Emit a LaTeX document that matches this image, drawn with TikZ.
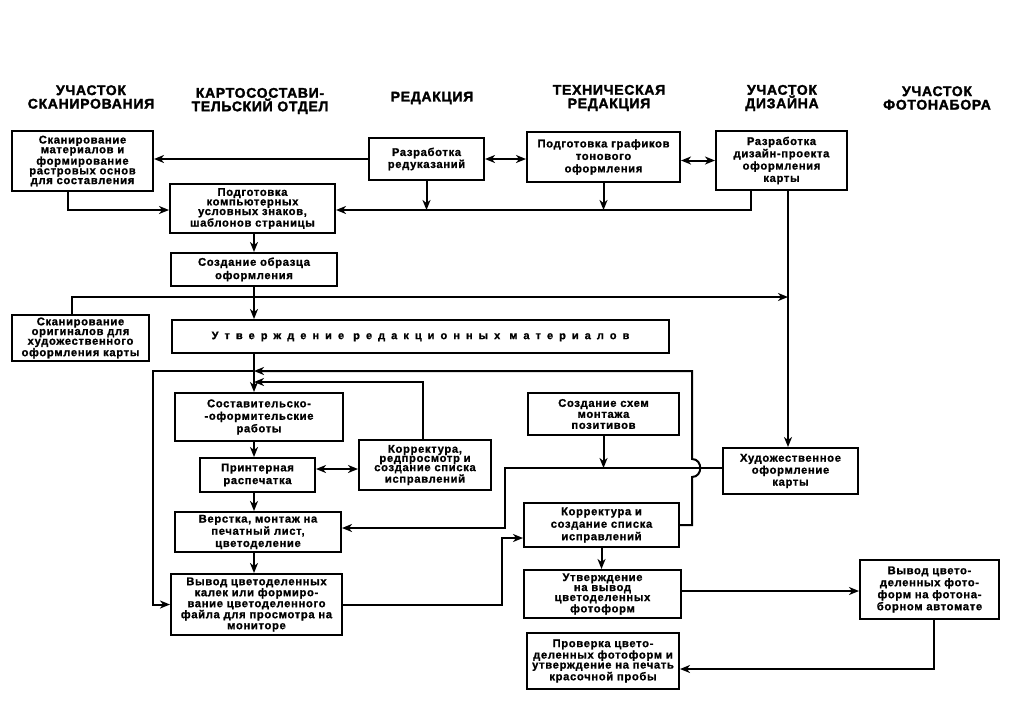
\documentclass[tikz,border=0pt]{standalone}
\usepackage{fontspec}
\usetikzlibrary{arrows.meta}
\newfontfamily\boxfont[LetterSpace=6,FakeBold=1.2]{Liberation Sans Bold}
\newfontfamily\headfont[LetterSpace=5,FakeBold=2]{Liberation Sans Bold}
\newfontfamily\widefont[LetterSpace=55,FakeBold=1.2]{Liberation Sans Bold}
\begin{document}
\begin{tikzpicture}[x=1pt,y=-1pt,
  bx/.style={draw,line width=2pt,inner sep=0pt,align=center,font=\boxfont\fontsize{11.2}{12}\selectfont},
  lead/.style={font=\boxfont\fontsize{11.2}{#1}\selectfont},
  ln/.style={line width=2pt},
  arr/.style={ln,-{Stealth[length=10pt,width=8pt,inset=3pt]}},
  darr/.style={ln,{Stealth[length=10pt,width=8pt,inset=3pt]}-{Stealth[length=10pt,width=8pt,inset=3pt]}},
  hd/.style={align=center,inner sep=0pt,font=\headfont\fontsize{14}{13.5}\selectfont}]
\fill[white] (0,0) rectangle (1010,705);
\useasboundingbox (0,0) rectangle (1010,705);

% headers
\node[hd] (h1) at (91,97) {УЧАСТОК\\СКАНИРОВАНИЯ};
\node[hd] (h2) at (260,101) {КАРТОСОСТАВИ-\\ТЕЛЬСКИЙ ОТДЕЛ};
\node[hd] (h3) at (432,98) {РЕДАКЦИЯ};
\node[hd] (h4) at (609,98) {ТЕХНИЧЕСКАЯ\\РЕДАКЦИЯ};
\node[hd] (h5) at (782,98) {УЧАСТОК\\ДИЗАЙНА};
\node[hd] (h6) at (937,98) {УЧАСТОК\\ФОТОНАБОРА};

% boxes
\node[bx,lead=9.7,minimum width=141pt,minimum height=60pt] (scan1) at (82.5,161) {Сканирование\\материалов и\\формирование\\растровых основ\\для составления};
\node[bx,lead=9.6,minimum width=165pt,minimum height=49pt] (podg) at (252.5,208.5) {Подготовка\\компьютерных\\условных знаков,\\шаблонов страницы};
\node[bx,lead=12,minimum width=115pt,minimum height=42pt] (red) at (426.5,159) {Разработка\\редуказаний};
\node[bx,lead=12.5,minimum width=153pt,minimum height=50pt] (graf) at (603.5,157) {Подготовка графиков\\тонового\\оформления};
\node[bx,lead=12.3,minimum width=131pt,minimum height=59pt] (diz) at (781.5,160.5) {Разработка\\дизайн-проекта\\оформления\\карты};
\node[bx,lead=13.3,minimum width=166pt,minimum height=33pt] (obr) at (254,269.5) {Создание образца\\оформления};
\node[bx,minimum width=497pt,minimum height=33pt,font=\widefont\fontsize{11}{12}\selectfont] (utv) at (420.5,336.5) {Утверждение редакционных материалов};
\node[bx,lead=9.7,minimum width=137pt,minimum height=46pt] (scan2) at (80.5,338) {Сканирование\\оригиналов для\\художественного\\оформления карты};
\node[bx,lead=12.5,minimum width=168pt,minimum height=48pt] (sost) at (259,417) {Составительско-\\-оформительские\\работы};
\node[bx,lead=12.7,minimum width=115pt,minimum height=34pt] (print) at (257.5,475) {Принтерная\\распечатка};
\node[bx,lead=9.2,minimum width=132pt,minimum height=50pt] (korr1) at (425,465) {Корректура,\\редпросмотр и\\создание списка\\исправлений};
\node[bx,lead=12.2,minimum width=166pt,minimum height=40pt] (verst) at (258,532) {Верстка, монтаж на\\печатный лист,\\цветоделение};
\node[bx,lead=11,minimum width=171pt,minimum height=61pt] (vyvod1) at (256.5,604.5) {Вывод цветоделенных\\калек или формиро-\\вание цветоделенного\\файла для просмотра на\\мониторе};
\node[bx,lead=11,minimum width=151pt,minimum height=42pt] (skhem) at (603.5,414) {Создание схем\\монтажа\\позитивов};
\node[bx,lead=12,minimum width=135pt,minimum height=46pt] (khud) at (790.5,471) {Художественное\\оформление\\карты};
\node[bx,lead=12.5,minimum width=155pt,minimum height=44pt] (korr2) at (601.5,525) {Корректура и\\создание списка\\исправлений};
\node[bx,lead=10,minimum width=157pt,minimum height=48pt] (utv2) at (602.5,594) {Утверждение\\на вывод\\цветоделенных\\фотоформ};
\node[bx,lead=12,minimum width=139pt,minimum height=59pt] (vyvod2) at (929.5,589.5) {Вывод цвето-\\деленных фото-\\форм на фотона-\\борном автомате};
\node[bx,lead=10,minimum width=152pt,minimum height=56pt] (prov) at (603,661) {Проверка цвето-\\деленных фотоформ и\\утверждение на печать\\красочной пробы};

% helper coordinates
\coordinate (mx) at (254,0);
\coordinate (x68) at (68,0);
\coordinate (x72) at (72,0);
\coordinate (x153) at (153,0);
\coordinate (x423) at (423,0);
\coordinate (x502) at (502,0);
\coordinate (x505) at (505,0);
\coordinate (x692) at (692,0);
\coordinate (x751) at (751,0);
\coordinate (x788) at (788,0);
\coordinate (x934) at (934,0);
\coordinate (y210) at (0,210);
\coordinate (y297) at (0,297);
\coordinate (y371) at (0,371);
\coordinate (y382) at (0,382);
\coordinate (y468) at (0,468);
\coordinate (y469) at (0,469);
\coordinate (y528) at (0,528);
\coordinate (y538) at (0,538);
\coordinate (y591) at (0,591);
\coordinate (y605) at (0,605);
\coordinate (y669) at (0,669);
\coordinate (b1) at (692,477);
\coordinate (b2) at (692,459);

% connectors
\draw[arr] (red.west) -- (red.west -| scan1.east);
\draw[darr] (red.east) -- (red.east -| graf.west);
\draw[darr] (diz.west -| graf.east) -- (diz.west);
\draw[arr] (scan1.south -| x68) |- (podg.west |- y210);
\draw[arr] (diz.south -| x751) |- (podg.east |- y210);
\draw[arr] (red.south) -- (red.south |- y210);
\draw[arr] (graf.south) -- (graf.south |- y210);
\draw[arr] (diz.south -| x788) -- (khud.north -| x788);
\draw[arr] (podg.south -| mx) -- (obr.north -| mx);
\draw[arr] (obr.south -| mx) -- (utv.north -| mx);
\draw[arr] (scan2.north -| x72) |- (x788 |- y297);
\draw[arr] (utv.south -| mx) -- (sost.north -| mx);
\draw[arr] (korr2.east) -- (korr2.east -| x692) -- (b1) .. controls +(11,0) and +(11,0) .. (b2) -- (x692 |- y371) -- (mx |- y371);
\draw[arr] (mx |- y371) -- (x153 |- y371) |- (vyvod1.west);
\draw[arr] (korr1.north -| x423) |- (mx |- y382);
\draw[arr] (sost.south -| mx) -- (print.north -| mx);
\draw[darr] (print.east |- y469) -- (korr1.west |- y469);
\draw[arr] (print.south -| mx) -- (verst.north -| mx);
\draw[arr] (khud.west |- y468) -- (x505 |- y468) |- (verst.east |- y528);
\draw[arr] (skhem.south) -- (skhem.south |- y468);
\draw[arr] (verst.south -| mx) -- (vyvod1.north -| mx);
\draw[arr] (vyvod1.east |- y605) -- (x502 |- y605) |- (korr2.west |- y538);
\draw[arr] (korr2.south) -- (korr2.south |- utv2.north);
\draw[arr] (utv2.east |- y591) -- (vyvod2.west |- y591);
\draw[arr] (vyvod2.south -| x934) |- (prov.east |- y669);
\end{tikzpicture}
\end{document}
